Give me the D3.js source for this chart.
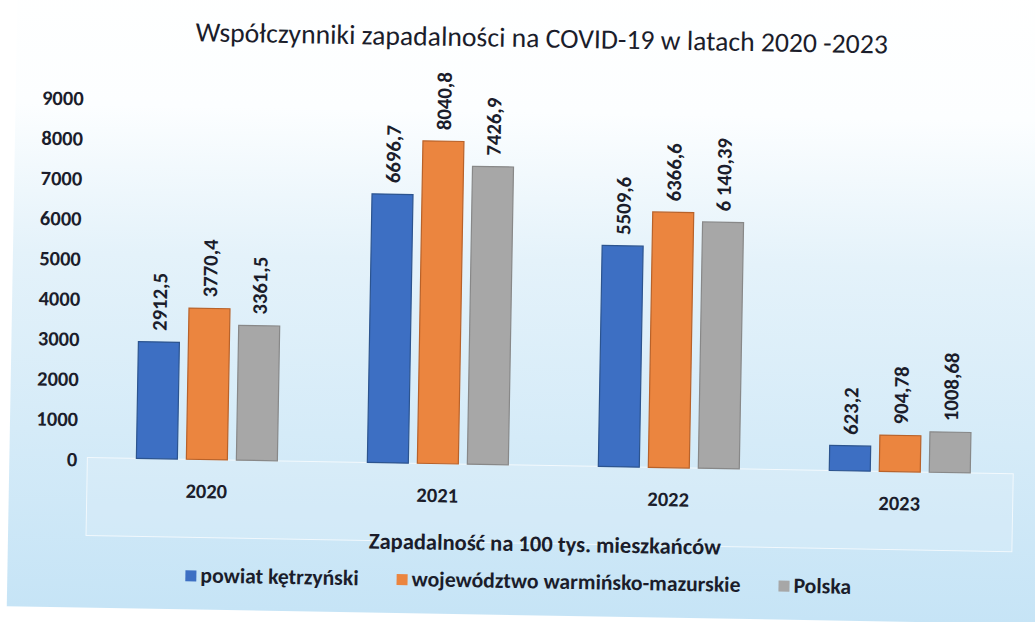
<!DOCTYPE html>
<html>
<head>
<meta charset="utf-8">
<script src="https://cdn.jsdelivr.net/npm/d3@7"></script>
<style>
  body { margin: 0; background: #fff; }
  text { font-family: Carlito, Lato, "Open Sans", sans-serif; fill: #1b1d2b; }
</style>
</head>
<body>
<div class="chart"></div>
<script>
const years = ['2020', '2021', '2022', '2023'];
const seriesNames = ['powiat kętrzyński', 'województwo warmińsko-mazurskie', 'Polska'];
const powiat = [2912.5, 6696.7, 5509.6, 623.2];
const wojewodztwo = [3770.4, 8040.8, 6366.6, 904.78];
const polska = [3361.5, 7426.9, 6140.39, 1008.68];
const powiatLabels = ['2912,5', '6696,7', '5509,6', '623,2'];
const wojewodztwoLabels = ['3770,4', '8040,8', '6366,6', '904,78'];
const polskaLabels = ['3361,5', '7426,9', '6 140,39', '1008,68'];
const yTicks = [0, 1000, 2000, 3000, 4000, 5000, 6000, 7000, 8000, 9000];

const colors = ['#3d6fc3', '#eb853f', '#a7a7a7'];
const strokes = ['#2c548f', '#b8622a', '#888888'];

const fullWidth = 1035;
const fullHeight = 622;

const svg = d3.select('.chart')
    .append('svg')
        .attr('width', fullWidth)
        .attr('height', fullHeight);

const defs = svg.append('defs');
const grad = defs.append('linearGradient')
    .attr('id', 'bg')
    .attr('x1', 0).attr('y1', 0).attr('x2', 0).attr('y2', 1);
grad.append('stop').attr('offset', '0').attr('stop-color', '#ffffff');
grad.append('stop').attr('offset', '0.22').attr('stop-color', '#fcfeff');
grad.append('stop').attr('offset', '0.45').attr('stop-color', '#e4f2fa');
grad.append('stop').attr('offset', '1').attr('stop-color', '#c6e4f6');

// the scan is tilted about one degree
const chart = svg.append('g')
    .attr('transform', 'rotate(1, 517, 311)');

chart.append('rect')
    .attr('x', 12).attr('y', -30)
    .attr('width', 1040).attr('height', 645)
    .attr('fill', 'url(#bg)');

const margin = { top: 104, bottom: 465, left: 94, right: 1018 };

const yScale = d3.scaleLinear()
    .domain([0, 9000])
    .range([margin.bottom, margin.top]);

const xScale = d3.scaleBand()
    .domain(years)
    .range([margin.left, margin.right])
    .padding(0);

const xInner = d3.scaleBand()
    .domain(seriesNames)
    .range([0, xScale.bandwidth()])
    .paddingInner(0.18)
    .paddingOuter(0.9);

// category-axis band below the bars
chart.append('rect')
    .attr('x', margin.left - 4)
    .attr('y', margin.bottom)
    .attr('width', margin.right - margin.left + 2)
    .attr('height', 78)
    .attr('fill', '#ffffff')
    .attr('fill-opacity', 0.12)
    .attr('stroke', '#ffffff')
    .attr('stroke-opacity', 0.7);

// title
chart.append('text')
    .attr('x', 537)
    .attr('y', 47)
    .attr('text-anchor', 'middle')
    .style('font-size', '27.7px')
    .text('Współczynniki zapadalności  na COVID-19 w latach 2020 -2023');

// y axis labels, no line
const yAxis = d3.axisLeft(yScale)
    .tickValues(yTicks)
    .tickSize(0)
    .tickPadding(0)
    .tickFormat(d3.format('d'));

const yG = chart.append('g')
    .attr('transform', 'translate(80, 2)')
    .call(yAxis);
yG.select('.domain').remove();
yG.selectAll('text')
    .style('font-size', '20.5px')
    .style('font-weight', 'bold')
    .attr('font-family', null);

// x axis labels
const xAxis = d3.axisBottom(xScale)
    .tickSize(0)
    .tickPadding(0);

const xG = chart.append('g')
    .attr('transform', `translate(0, ${margin.bottom + 24})`)
    .call(xAxis);
xG.select('.domain').remove();
xG.selectAll('text')
    .style('font-size', '20.5px')
    .style('font-weight', 'bold')
    .attr('font-family', null);

// bars
const series = [powiat, wojewodztwo, polska];
const seriesLabels = [powiatLabels, wojewodztwoLabels, polskaLabels];

const rows = [];
years.forEach((year, i) => {
    seriesNames.forEach((name, j) => {
        rows.push({ year, name, j, value: series[j][i], label: seriesLabels[j][i] });
    });
});

chart.selectAll('rect.bar')
    .data(rows)
    .enter()
    .append('rect')
        .attr('class', 'bar')
        .attr('x', d => xScale(d.year) + xInner(d.name))
        .attr('y', d => yScale(d.value))
        .attr('width', xInner.bandwidth())
        .attr('height', d => margin.bottom - yScale(d.value))
        .attr('fill', d => colors[d.j])
        .attr('stroke', d => strokes[d.j])
        .attr('stroke-width', 1.2);

chart.selectAll('text.val')
    .data(rows)
    .enter()
    .append('text')
        .attr('class', 'val')
        .attr('transform', d => {
            const x = xScale(d.year) + xInner(d.name) + xInner.bandwidth() / 2;
            const y = yScale(d.value) - 11;
            return `translate(${x}, ${y}) rotate(-90)`;
        })
        .attr('dy', '0.35em')
        .attr('text-anchor', 'start')
        .style('font-size', '20.8px')
        .style('font-weight', 'bold')
        .text(d => d.label);

// axis title
chart.append('text')
    .attr('x', 549)
    .attr('y', 551)
    .attr('text-anchor', 'middle')
    .style('font-size', '22.5px')
    .style('font-weight', 'bold')
    .text('Zapadalność na 100 tys. mieszkańców');

// legend
const legend = chart.append('g')
    .attr('transform', 'translate(0, 588)');

const items = legend.selectAll('g')
    .data(seriesNames)
    .enter()
    .append('g');

items.append('rect')
    .attr('width', 11)
    .attr('height', 11)
    .attr('y', -12)
    .attr('fill', (d, i) => colors[i]);

items.append('text')
    .attr('x', 15)
    .style('font-size', '21.7px')
    .style('font-weight', 'bold')
    .text(d => d);

const gap = 38;
let widths = [];
items.each(function () {
    widths.push(this.getBBox().width);
});
const total = d3.sum(widths) + gap * (widths.length - 1);
let cursor = 523 - total / 2;
items.attr('transform', (d, i) => {
    const x = cursor;
    cursor += widths[i] + gap;
    return `translate(${x}, 0)`;
});
</script>
</body>
</html>
